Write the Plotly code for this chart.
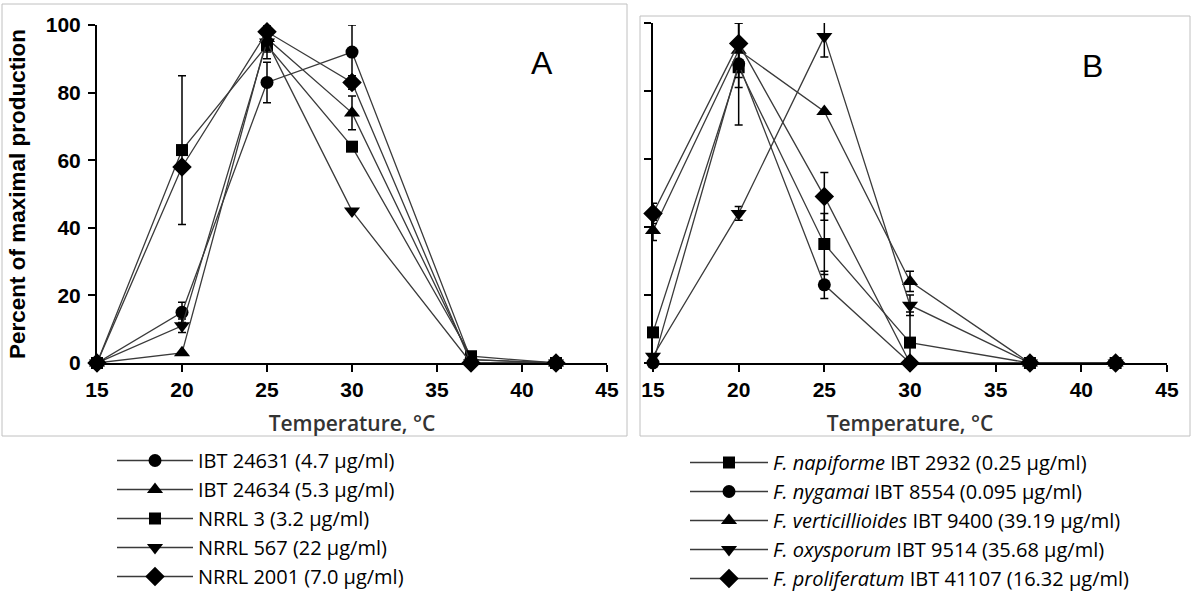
import plotly.graph_objects as go

# ---------------- data ----------------
temps = [15, 20, 25, 30, 37, 42]

# Panel A
a_names = ["IBT 24631 (4.7 µg/ml)", "IBT 24634 (5.3 µg/ml)", "NRRL 3 (3.2 µg/ml)",
           "NRRL 567 (22 µg/ml)", "NRRL 2001 (7.0 µg/ml)"]
a_ibt24631 = [0, 15, 83, 92, 1, 0]
a_ibt24631_err = [0, 3, 6, 8, 0, 0]
a_ibt24634 = [0, 3, 96, 74, 1, 0]
a_ibt24634_err = [0, 0, 3, 5, 0, 0]
a_nrrl3 = [0, 63, 94, 64, 2, 0]
a_nrrl3_err = [0, 22, 4, 0, 0, 0]
a_nrrl567 = [0, 11, 95, 45, 0, 0]
a_nrrl567_err = [0, 2, 3, 0, 0, 0]
a_nrrl2001 = [0, 58, 98, 83, 0, 0]
a_nrrl2001_err = [0, 0, 2, 2, 0, 0]

# Panel B
b_names = ["<i>F. napiforme</i> IBT 2932 (0.25 µg/ml)",
           "<i>F. nygamai</i> IBT 8554 (0.095 µg/ml)",
           "<i>F. verticillioides</i> IBT 9400 (39.19 µg/ml)",
           "<i>F. oxysporum</i> IBT 9514 (35.68 µg/ml)",
           "<i>F. proliferatum</i> IBT 41107 (16.32 µg/ml)"]
b_napiforme = [9, 87, 35, 6, 0, 0]
b_napiforme_err = [0, 6, 9, 9, 0, 0]
b_nygamai = [0, 88, 23, 0, 0, 0]
b_nygamai_err = [0, 18, 4, 0, 0, 0]
b_verticillioides = [39, 92, 74, 24, 0, 0]
b_verticillioides_err = [3, 8, 0, 3, 0, 0]
b_oxysporum = [2, 44, 96, 17, 0, 0]
b_oxysporum_err = [0, 2, 6, 3, 0, 0]
b_proliferatum = [44, 94, 49, 0, 0, 0]
b_proliferatum_err = [3, 6, 7, 0, 0, 0]

x_ticks = [15, 20, 25, 30, 35, 40, 45]
y_ticks = [0, 20, 40, 60, 80, 100]

# ---------------- styling ----------------
sym_size = {"circle": 13, "triangle-up": 14, "square": 12, "triangle-down": 14, "diamond": 15}
line_col = "#3a3a3a"

fig = go.Figure()

def add_series(x, y, err, name, symbol, xa, ya, legend):
    fig.add_trace(go.Scatter(
        x=x, y=y, name=name, mode="lines+markers",
        xaxis=xa, yaxis=ya, legend=legend,
        line=dict(color=line_col, width=1.3),
        marker=dict(symbol=symbol, size=sym_size[symbol], color="black"),
        error_y=dict(type="data", array=err, visible=True, color="black",
                     thickness=1.5, width=4),
        cliponaxis=False,
    ))

a_series = [(a_ibt24631, a_ibt24631_err, "circle"),
            (a_ibt24634, a_ibt24634_err, "triangle-up"),
            (a_nrrl3, a_nrrl3_err, "square"),
            (a_nrrl567, a_nrrl567_err, "triangle-down"),
            (a_nrrl2001, a_nrrl2001_err, "diamond")]
for (vals, err, sym), nm in zip(a_series, a_names):
    add_series(temps, vals, err, nm, sym, "x", "y", "legend")

b_series = [(b_napiforme, b_napiforme_err, "square"),
            (b_nygamai, b_nygamai_err, "circle"),
            (b_verticillioides, b_verticillioides_err, "triangle-up"),
            (b_oxysporum, b_oxysporum_err, "triangle-down"),
            (b_proliferatum, b_proliferatum_err, "diamond")]
for (vals, err, sym), nm in zip(b_series, b_names):
    add_series(temps, vals, err, nm, sym, "x2", "y2", "legend2")

W, H = 1200, 607
tickfont = dict(family="Liberation Sans", size=21, color="black", weight=700)
xtitle = dict(text="Temperature, °C",
              font=dict(family="Open Sans", size=21, color="#333", weight=600),
              standoff=16)

axis_common = dict(showgrid=False, zeroline=False, showline=True, linecolor="black",
                   linewidth=2, ticks="outside", ticklen=7, tickwidth=2,
                   tickcolor="black", tickfont=tickfont)

legend_font = dict(family="Open Sans", size=20, color="black")

fig.update_layout(
    width=W, height=H,
    margin=dict(l=0, r=0, t=0, b=0, autoexpand=False),
    paper_bgcolor="white", plot_bgcolor="white",
    xaxis=dict(domain=[97 / W, 607 / W], range=[15, 45], tickvals=x_ticks,
               anchor="y", title=xtitle, **axis_common),
    yaxis=dict(domain=[1 - 363 / H, 1 - 25 / H], range=[0, 100], tickvals=y_ticks,
               anchor="x", ticklabelstandoff=3,
               title=dict(text="Percent of maximal production",
                          font=dict(family="Liberation Sans", size=22.5, color="black", weight=700),
                          standoff=14),
               **axis_common),
    xaxis2=dict(domain=[653 / W, 1167 / W], range=[15, 45], tickvals=x_ticks,
                anchor="y2", title=xtitle, **axis_common),
    yaxis2=dict(domain=[1 - 363 / H, 1 - 23 / H], range=[0, 100], tickvals=y_ticks,
                anchor="x2", showticklabels=False, **axis_common),
    legend=dict(x=112 / W, y=1 - 441 / H, xanchor="left", yanchor="top",
                font=legend_font, itemwidth=76,
                bgcolor="rgba(0,0,0,0)", tracegroupgap=0),
    legend2=dict(x=685 / W, y=1 - 443 / H, xanchor="left", yanchor="top",
                 font=legend_font, itemwidth=78,
                 bgcolor="rgba(0,0,0,0)", tracegroupgap=0),
    showlegend=True,
    shapes=[
        dict(type="rect", xref="paper", yref="paper", x0=2 / W, x1=627 / W,
             y0=1 - 436 / H, y1=1 - 4 / H, line=dict(color="#c0c0c0", width=1), layer="below"),
        dict(type="rect", xref="paper", yref="paper", x0=640 / W, x1=1190 / W,
             y0=1 - 436 / H, y1=1 - 16 / H, line=dict(color="#c0c0c0", width=1), layer="below"),
    ],
    annotations=[
        dict(text="A", xref="paper", yref="paper", x=542 / W, y=1 - 63 / H,
             xanchor="center", yanchor="middle",
             showarrow=False, font=dict(family="Liberation Sans", size=32, color="black")),
        dict(text="B", xref="paper", yref="paper", x=1092 / W, y=1 - 66 / H,
             xanchor="center", yanchor="middle",
             showarrow=False, font=dict(family="Liberation Sans", size=32, color="black")),
    ],
)

fig.write_html("out.html", config={"displayModeBar": False},
               post_script="document.body.style.margin='0';")
